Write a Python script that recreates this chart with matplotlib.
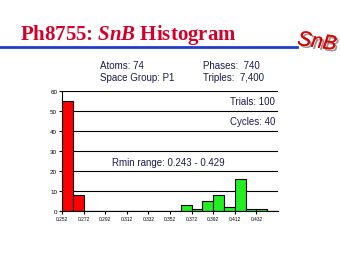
import matplotlib
matplotlib.use('Agg')
import matplotlib.pyplot as plt
import matplotlib.patheffects as pe

# histogram data
bin_left = [0.252, 0.262, 0.272, 0.282, 0.292, 0.302, 0.312, 0.322, 0.332, 0.342,
            0.352, 0.362, 0.372, 0.382, 0.392, 0.402, 0.412, 0.422, 0.432, 0.442]
counts = [55, 8, 0, 0, 0, 0, 0, 0, 0, 0,
          0, 3, 1, 5, 8, 2, 16, 1, 1, 0]
tick_pos = [0.252, 0.272, 0.292, 0.312, 0.332, 0.352, 0.372, 0.392, 0.412, 0.432]
tick_lab = ['0.252', '0.272', '0.292', '0.312', '0.332', '0.352', '0.372', '0.392', '0.412', '0.432']
yticks = [0, 10, 20, 30, 40, 50, 60]
split = 0.30  # bins below this are drawn red

plt.rcParams['font.family'] = ['Liberation Sans', 'DejaVu Sans']
plt.rcParams['mathtext.fontset'] = 'custom'
plt.rcParams['mathtext.it'] = 'Liberation Serif:bold:italic'
plt.rcParams['mathtext.rm'] = 'Liberation Serif:bold'

fig = plt.figure(figsize=(3.4, 2.55), dpi=100)
fig.patch.set_facecolor('white')

# title and decorations
fig.text(20 / 340, 1 - 40 / 255, r'Ph8755: $\mathit{SnB}$ Histogram', color='#d4002a',
         fontsize=15, family='Liberation Serif', weight='bold', va='baseline', ha='left')
fig.add_artist(plt.Line2D([0, 297 / 340], [1 - 48 / 255, 1 - 48 / 255],
                          color='#1f3fc8', lw=2, transform=fig.transFigure))
fig.text(317 / 340, 1 - 43 / 255, 'SnB', color='#e00000', fontsize=15, style='italic',
         ha='center', va='center', rotation=-8,
         path_effects=[pe.withSimplePatchShadow(offset=(1.5, -1.5), shadow_rgbFace='#888888', alpha=0.9),
                       pe.Normal()])

navy = '#1a1a4e'
fig.text(100 / 340, 1 - 66 / 255, 'Atoms: 74', color=navy, fontsize=7, va='center')
fig.text(100 / 340, 1 - 78 / 255, 'Space Group: P1', color=navy, fontsize=7, va='center')
fig.text(203 / 340, 1 - 66 / 255, 'Phases:  740', color=navy, fontsize=7, va='center')
fig.text(203 / 340, 1 - 78 / 255, 'Triples:  7,400', color=navy, fontsize=7, va='center')

ax = fig.add_axes([62 / 340, 1 - 212 / 255, 216 / 340, 120 / 255])
colors = ['#ff0000' if b < split else '#22ee22' for b in bin_left]
ax.bar(bin_left, counts, width=0.01, align='edge', color=colors, edgecolor='black', linewidth=0.8)

ax.set_xlim(0.252, 0.452)
ax.set_ylim(0, 60)
ax.set_xticks(tick_pos)
ax.set_xticklabels(tick_lab, fontsize=3.5)
ax.set_yticks(yticks)
ax.set_yticklabels([str(v) for v in yticks], fontsize=4.5)
ax.tick_params(length=2, width=0.8, pad=1.5)
ax.set_axisbelow(True)
ax.yaxis.grid(True, color='black', lw=0.8)
for s in ['top', 'right']:
    ax.spines[s].set_visible(False)
for s in ['left', 'bottom']:
    ax.spines[s].set_linewidth(0.8)

ax.text(0.4495, 55, 'Trials: 100', color=navy, fontsize=7, ha='right', va='center')
ax.text(0.4495, 45, 'Cycles: 40', color=navy, fontsize=7, ha='right', va='center')
ax.text(0.2985, 24.5, 'Rmin range: 0.243 - 0.429', color=navy, fontsize=7, ha='left', va='center')

fig.savefig('out.png', dpi=100)
